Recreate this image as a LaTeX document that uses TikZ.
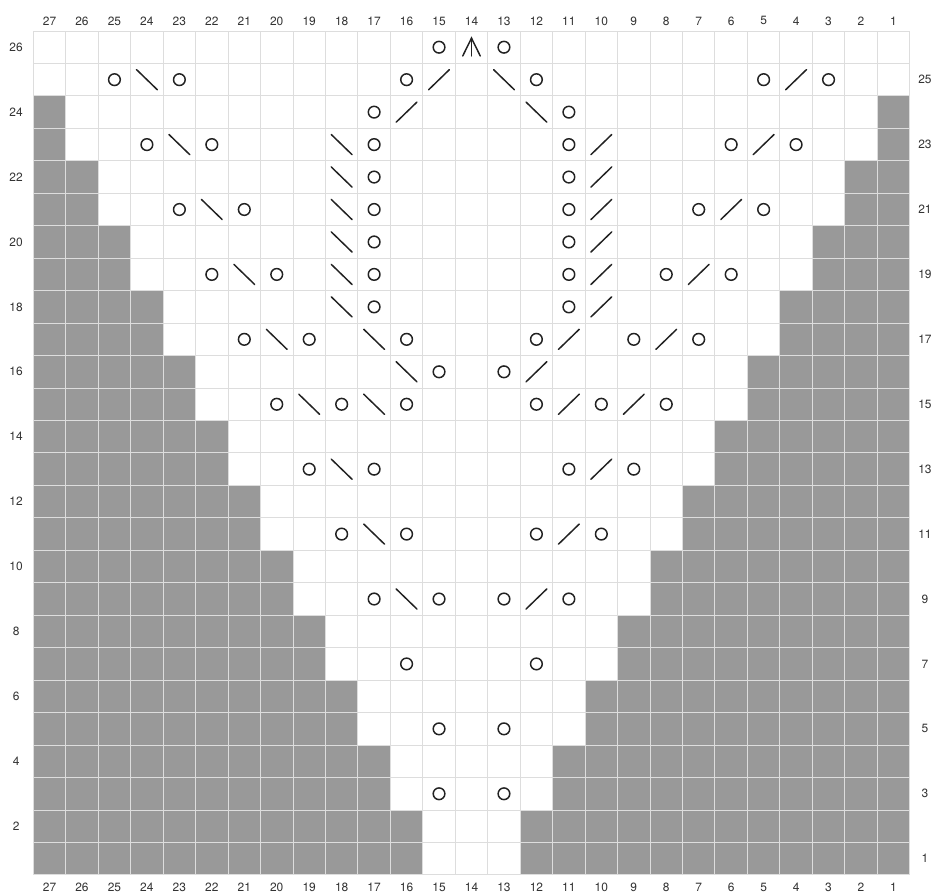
\documentclass[tikz,border=0pt]{standalone}
\usepackage{fontspec}
\setmainfont{TeX Gyre Heros}
\usepackage{xcolor}
\usepackage{tikz}
\usetikzlibrary{positioning}
\definecolor{gridgray}{HTML}{DDDDDD}
\definecolor{shadegray}{HTML}{999999}
\definecolor{inkgray}{HTML}{222222}
\definecolor{labelgray}{HTML}{333333}

\begin{document}
\begin{tikzpicture}[
  x=1cm,y=1cm,font=\fontsize{10.5}{12}\selectfont,
  lbl/.style={inner sep=0pt,text=labelgray},
  shade/.style={fill=shadegray,draw=none},
  gridline/.style={draw=gridgray,line width=0.8pt},
  sym/.style={draw=inkgray,line width=1.3pt,line cap=round}
]
\useasboundingbox (-1.026,-0.607) rectangle (27.749,26.955);
% shaded corners (col c sits at x = 27.5-c, row r at y = r-0.5)
\foreach \r/\n in {1/12,3/11,5/10,7/9,9/8,11/7,13/6,15/5,17/4,19/3,21/2,23/1}{
  \fill[shade] (0,\r-1) rectangle (\n,\r+1);
  \fill[shade] (27-\n,\r-1) rectangle (27,\r+1);
}
\draw[gridline] (0,0) grid (27,26);
% column and row numbers
\foreach \c in {1,...,27}{
  \node[lbl] (top\c) at (27.5-\c,26.31) {\c};
  \node[lbl] (bot\c) at (27.5-\c,-0.38) {\c};
}
\foreach \r in {2,4,...,26}
  \node[lbl] (left\r) at (-0.53,\r-0.5) {\r};
\foreach \r in {1,3,...,25}
  \node[lbl] (right\r) at (27.47,\r-0.5) {\r};
% yarn overs
\foreach \c/\r in {15/26,13/26,
  25/25,23/25,16/25,12/25,5/25,3/25, 17/24,11/24,
  24/23,22/23,17/23,11/23,6/23,4/23, 17/22,11/22,
  23/21,21/21,17/21,11/21,7/21,5/21, 17/20,11/20,
  22/19,20/19,17/19,11/19,8/19,6/19, 17/18,11/18,
  21/17,19/17,16/17,12/17,9/17,7/17, 15/16,13/16,
  20/15,18/15,16/15,12/15,10/15,8/15,
  19/13,17/13,11/13,9/13, 18/11,16/11,12/11,10/11,
  17/9,15/9,13/9,11/9, 16/7,12/7, 15/5,13/5, 15/3,13/3}
  \draw[sym] (27.5-\c,\r-0.5) circle (0.18);
% left-leaning decreases
\foreach \c/\r in {24/25,13/25,12/24,23/23,18/23,18/22,22/21,18/21,
  18/20,21/19,18/19,18/18,20/17,17/17,16/16,19/15,17/15,18/13,17/11,16/9}
  \draw[sym] (27.5-\c-0.32,\r-0.5+0.31) -- (27.5-\c+0.32,\r-0.5-0.31);
% right-leaning decreases
\foreach \c/\r in {15/25,4/25,16/24,10/23,5/23,10/22,10/21,6/21,
  10/20,10/19,7/19,10/18,11/17,8/17,12/16,11/15,9/15,10/13,11/11,12/9}
  \draw[sym] (27.5-\c-0.32,\r-0.5-0.31) -- (27.5-\c+0.32,\r-0.5+0.31);
% central double decrease
\draw[sym,line join=miter] (13.23,25.23) -- (13.5,25.78) -- (13.77,25.23);
\draw[sym] (13.5,25.78) -- (13.5,25.23);
\end{tikzpicture}
\end{document}
